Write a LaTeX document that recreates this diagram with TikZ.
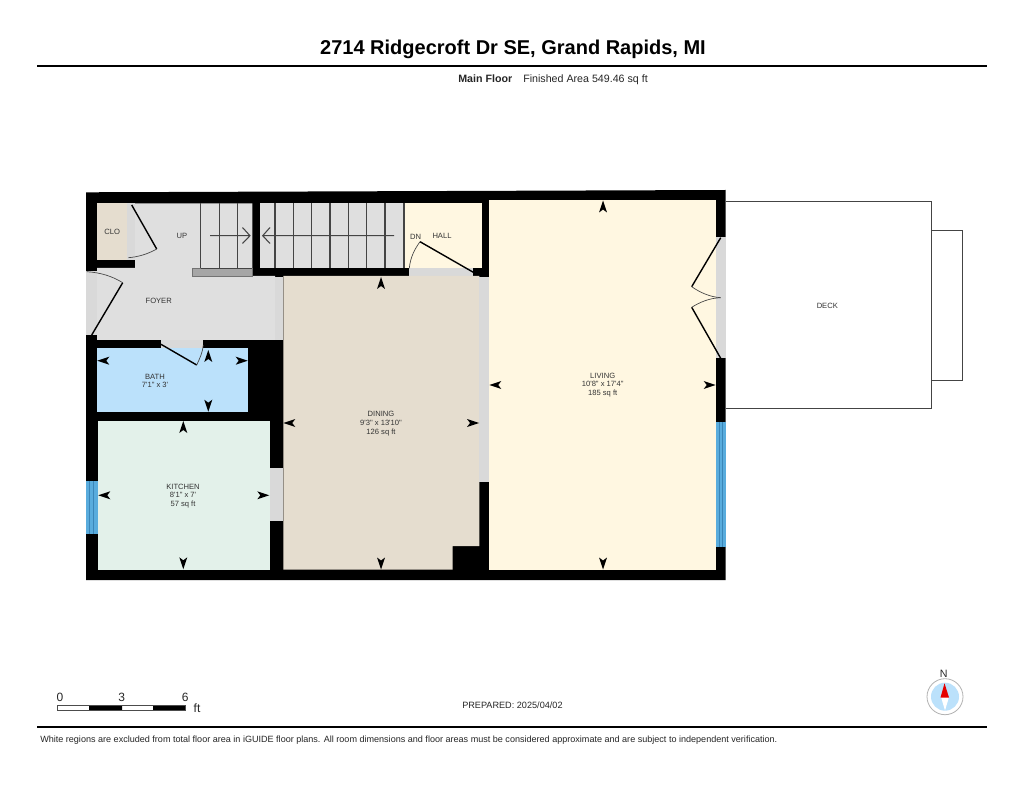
\documentclass[tikz,border=0pt]{standalone}
\usepackage{fontspec}
\newfontfamily\lsans{Liberation Sans}
\definecolor{cream}{HTML}{FFF7E1}
\definecolor{tan}{HTML}{E5DDCF}
\definecolor{mint}{HTML}{E3F1EA}
\definecolor{bathblue}{HTML}{BBE1FB}
\definecolor{foyergray}{HTML}{DFDFDF}
\definecolor{stripgray}{HTML}{D9D9D9}
\definecolor{winblue}{HTML}{59ACDD}
\definecolor{winline}{HTML}{3A86B8}
\definecolor{labelc}{HTML}{333333}
\definecolor{linec}{HTML}{444444}
\tikzset{
  roomlabel/.style={font=\lsans\fontsize{5.7pt}{7pt}\selectfont,text=labelc,inner sep=0pt,anchor=base},
  hdr/.style={font=\lsans\fontsize{8pt}{9pt}\selectfont,inner sep=0pt,text=black!85},
  doorleaf/.style={draw=black,line width=1.05pt},
  doorarc/.style={draw=linec,line width=.5pt},
  tread/.style={draw=linec,line width=1pt},
  deckline/.style={draw=linec,line width=1pt},
  dimarrow/.pic={\fill[black] (0,0) -- (-12,4) -- (-9,0) -- (-12,-4) -- cycle;}
}
\begin{document}
\begin{tikzpicture}[x=.75pt,y=-.75pt]
\useasboundingbox (0,0) rectangle (1024,791);
\fill[white] (0,0) rectangle (1024,791);
% header
\node[inner sep=0pt,font=\lsans\bfseries\fontsize{15pt}{17pt}\selectfont] (title) at (513,49) {2714 Ridgecroft Dr SE, Grand Rapids, MI};
\draw[line width=1.5pt] (37,66) -- (987,66);
\node[hdr,anchor=base west,font=\lsans\bfseries\fontsize{8pt}{9pt}\selectfont] (floor) at (458,82.3) {Main Floor};
\node[hdr,anchor=base west] (area) at (523,82.3) {Finished Area 549.46 sq ft};
% deck
\draw[deckline] (725.7,201.7) -- (931.7,201.7) -- (931.7,408.3) -- (725.7,408.3);
\draw[deckline] (931.7,230.7) -- (962.7,230.7) -- (962.7,380.7) -- (931.7,380.7);
% shell
\fill[black] (86,192.3) -- (725.7,190) -- (725.7,580) -- (86,580) -- cycle;
% rooms
\fill[tan] (97,203.3) rectangle (127,259.7);
\fill[stripgray] (127,203.3) rectangle (135,259.7);
\fill[foyergray] (135,203.3) -- (252.3,203.3) -- (252.3,276) -- (275,276) -- (275,340) -- (97,340) -- (97,268) -- (135,268) -- cycle;
\fill[foyergray] (260,203.3) rectangle (404,268);
\fill[cream] (404,203.3) rectangle (481.7,268.3);
\fill[stripgray] (409.3,268.3) rectangle (472.7,276);
\fill[stripgray] (275,277) rectangle (283.3,340);
\fill[stripgray] (86,271) rectangle (97,335);
\fill[stripgray] (161,340) rectangle (203.3,348.3);
\fill[bathblue] (96.7,348.3) rectangle (247.7,412.3);
\fill[mint] (97.5,420.7) rectangle (269.7,569.5);
\fill[stripgray] (269.7,468.3) rectangle (283,521);
\fill[tan] (283.3,276) -- (479.3,276) -- (479.3,546) -- (452.7,546) -- (452.7,569.5) -- (283.3,569.5) -- cycle;
\fill[stripgray] (479.3,276.7) rectangle (489.3,481.7);
\fill[cream] (489.3,200) rectangle (715.7,569.5);
\fill[stripgray] (715.7,237.5) rectangle (725.7,358.3);
% windows
\fill[winblue] (86,481) rectangle (97.5,534);
\draw[winline,line width=.5pt] (89,481) -- (89,534) (93.3,481) -- (93.3,534);
\fill[winblue] (715.7,422.3) rectangle (725.7,546.7);
\draw[winline,line width=.5pt] (719,422.3) -- (719,546.7) (722.5,422.3) -- (722.5,546.7);
% stairs
\fill[black!35] (192.3,268.3) rectangle (252.3,276);
\draw[draw=black!55,line width=.4pt] (192.3,268.3) rectangle (252.3,276);
\draw[tread] (200.7,203.3) -- (200.7,268.3) (219.3,203.3) -- (219.3,268.3) (237.7,203.3) -- (237.7,268.3) (200.7,268.3) -- (252.3,268.3);
\foreach \sx in {275,293.3,311.7,330,348.3,366.7,385,404}
  \draw[tread] (\sx,203.3) -- (\sx,268);
\coordinate (upstart) at (210,235.7);
\coordinate (upend) at (250,235.7);
\coordinate (dnstart) at (394,235.7);
\coordinate (dnend) at (262.7,235.7);
\draw[draw=linec,line width=.8pt] (upstart) -- (upend) (242.5,227.5) -- (upend) -- (242.5,243.5);
\draw[draw=linec,line width=.8pt] (dnstart) -- (dnend) (270,227.5) -- (dnend) -- (270,243.5);
% doors
\draw[doorleaf] (131.7,205) -- (156.7,249);
\draw[doorarc] (156.7,249) .. controls (148,254) and (138,257) .. (128.3,257.7);
\draw[doorleaf] (91.7,335) -- (122.7,282.7);
\draw[doorarc] (122.7,282.7) .. controls (112,276) and (100,272.5) .. (86.7,271.7);
\draw[doorleaf] (161,344.3) -- (196.7,365);
\draw[doorarc] (196.7,365) .. controls (200,358) and (202.7,352) .. (203.3,345);
\draw[doorleaf] (473.3,272.3) -- (420,241.7);
\draw[doorarc] (420,241.7) .. controls (414,250) and (410.3,258) .. (409.3,268.3);
\draw[doorleaf] (720.7,237.7) -- (691.7,286.7);
\draw[doorarc] (691.7,286.7) .. controls (700,292.5) and (710,297) .. (720.7,297.7);
\draw[doorleaf] (720.7,358.3) -- (691.7,307.3);
\draw[doorarc] (691.7,307.3) .. controls (700,302) and (710,298) .. (720.7,297.7);
% dimension arrows
\foreach \ax/\ay/\rot in {97.3/360.7/180,247.7/360.7/0,208.3/350/90,208.3/411.7/-90,
  183.3/421/90,183.3/569.3/-90,98.3/495.3/180,269.3/495.3/0,
  283.3/423/180,479/423/0,381/277/90,381/569.5/-90,
  489.3/385/180,715.7/385/0,603/200.5/90,603/569.5/-90}
  \pic[rotate=\rot] at (\ax,\ay) {dimarrow};
% labels
\node[roomlabel] (clo) at (112.3,234.3) {CLO};
\node[roomlabel] (up) at (182,238.3) {UP};
\node[roomlabel] (foyer) at (158.7,303.3) {FOYER};
\node[roomlabel] (dn) at (415.7,239.3) {DN};
\node[roomlabel] (hall) at (442,238.3) {HALL};
\node[roomlabel] (deck) at (827.3,308.3) {DECK};
\node[roomlabel] (bath) at (155,379.3) {BATH};
\node[roomlabel] (bathd) at (155,387.7) {7'1" x 3'};
\node[roomlabel] (kit) at (183,489.3) {KITCHEN};
\node[roomlabel] (kitd) at (183,497.7) {8'1" x 7'};
\node[roomlabel] (kita) at (183,506) {57 sq ft};
\node[roomlabel] (din) at (381,416.7) {DINING};
\node[roomlabel] (dind) at (381,425.3) {9'3" x 13'10"};
\node[roomlabel] (dina) at (381,434) {126 sq ft};
\node[roomlabel] (liv) at (602.7,378.7) {LIVING};
\node[roomlabel] (livd) at (602.7,387) {10'8" x 17'4"};
\node[roomlabel] (liva) at (602.7,395.5) {185 sq ft};
% scale bar
\fill[black] (89,705.3) rectangle (122,710.7) (153,705.3) rectangle (185.7,710.7);
\draw[draw=black!70,line width=.4pt] (57.3,705.3) rectangle (185.7,710.7);
\node[hdr,font=\lsans\fontsize{9pt}{10pt}\selectfont] (s0) at (60,697) {0};
\node[hdr,font=\lsans\fontsize{9pt}{10pt}\selectfont] (s3) at (121.7,697) {3};
\node[hdr,font=\lsans\fontsize{9pt}{10pt}\selectfont] (s6) at (185.3,697) {6};
\node[hdr,font=\lsans\fontsize{9pt}{10pt}\selectfont] (sft) at (197,708) {ft};
\node[hdr,anchor=west,font=\lsans\fontsize{6.85pt}{8pt}\selectfont] (prep) at (462,705.3) {PREPARED: 2025/04/02};
% compass
\draw[draw=black!30,fill=white,line width=.6pt] (945,696.7) circle (18);
\fill[bathblue] (945,696.7) circle (14);
\fill[white] (941,697) -- (949,697) -- (945,710.5) -- cycle;
\fill[red!90!black] (944.5,683.3) -- (949,697.5) -- (940.5,697.5) -- cycle;
\node[hdr] (north) at (943.6,674) {N};
% footer
\draw[line width=1.5pt] (37,727) -- (987,727);
\node[hdr,anchor=west,font=\lsans\fontsize{6.79pt}{8pt}\selectfont] (disc) at (40,740) {White regions are excluded from total floor area in iGUIDE floor plans. All room dimensions and floor areas must be considered approximate and are subject to independent verification.};
\end{tikzpicture}
\end{document}
